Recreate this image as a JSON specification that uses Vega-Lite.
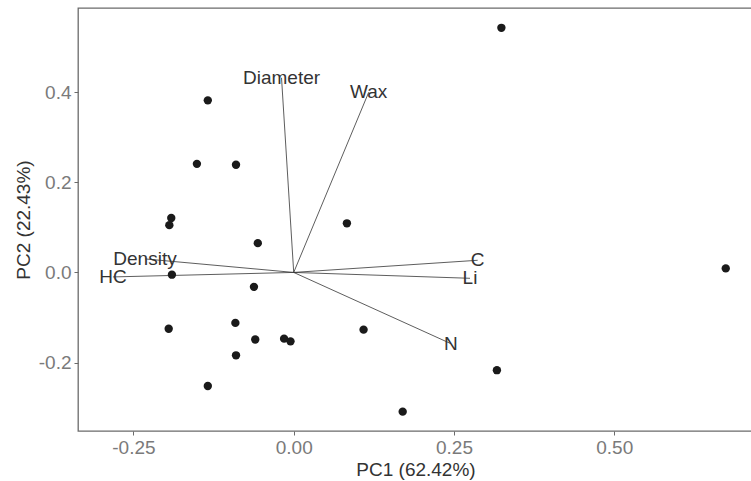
{
  "$schema": "https://vega.github.io/schema/vega-lite/v6.json",
  "autosize": "none",
  "width": 675,
  "height": 423,
  "padding": {"left": 78, "top": 8, "right": 0, "bottom": 50},
  "background": "white",
  "config": {
    "font": "Liberation Sans",
    "view": {"stroke": "#6b6b6b", "strokeWidth": 1.3},
    "axis": {
      "grid": false,
      "domain": false,
      "tickColor": "#6b6b6b",
      "tickSize": 4,
      "tickWidth": 1,
      "labelFont": "Liberation Sans",
      "labelFontSize": 19,
      "labelColor": "#7a7a7a",
      "labelPadding": 3,
      "titleFont": "Liberation Sans",
      "titleFontSize": 19,
      "titleFontWeight": "normal",
      "titleColor": "#333333"
    }
  },
  "datasets": {
    "ind": [
      {"PC1": 0.324, "PC2": 0.543},
      {"PC1": -0.134, "PC2": 0.382},
      {"PC1": -0.151, "PC2": 0.241},
      {"PC1": -0.090, "PC2": 0.239},
      {"PC1": -0.191, "PC2": 0.121},
      {"PC1": -0.194, "PC2": 0.105},
      {"PC1": 0.083, "PC2": 0.109},
      {"PC1": -0.056, "PC2": 0.065},
      {"PC1": -0.190, "PC2": -0.005},
      {"PC1": -0.062, "PC2": -0.032},
      {"PC1": -0.195, "PC2": -0.125},
      {"PC1": -0.091, "PC2": -0.112},
      {"PC1": -0.060, "PC2": -0.149},
      {"PC1": -0.015, "PC2": -0.147},
      {"PC1": -0.005, "PC2": -0.153},
      {"PC1": -0.090, "PC2": -0.184},
      {"PC1": -0.134, "PC2": -0.252},
      {"PC1": 0.109, "PC2": -0.127},
      {"PC1": 0.674, "PC2": 0.009},
      {"PC1": 0.317, "PC2": -0.217},
      {"PC1": 0.170, "PC2": -0.309}
    ],
    "var": [
      {"name": "Diameter", "PC1": -0.019, "PC2": 0.432},
      {"name": "Wax", "PC1": 0.117, "PC2": 0.400},
      {"name": "Density", "PC1": -0.232, "PC2": 0.030},
      {"name": "HC", "PC1": -0.282, "PC2": -0.010},
      {"name": "C", "PC1": 0.287, "PC2": 0.027},
      {"name": "Li", "PC1": 0.275, "PC2": -0.013},
      {"name": "N", "PC1": 0.245, "PC2": -0.158}
    ]
  },
  "layer": [
    {
      "data": {"name": "var"},
      "mark": {"type": "rule", "color": "#333333", "strokeWidth": 0.8},
      "encoding": {
        "x": {"field": "PC1", "type": "quantitative",
              "scale": {"domain": [-0.3365, 0.7165], "nice": false, "zero": false},
              "axis": {"values": [-0.25, 0, 0.25, 0.5], "labelExpr": "replace(format(datum.value, '.2f'), '\u2212', '-')", "title": "PC1 (62.42%)", "titlePadding": 3}},
        "y": {"field": "PC2", "type": "quantitative",
              "scale": {"domain": [-0.352, 0.587], "nice": false, "zero": false},
              "axis": {"values": [-0.2, 0, 0.2, 0.4], "labelExpr": "replace(format(datum.value, '.1f'), '\u2212', '-')", "title": "PC2 (22.43%)", "titlePadding": 5}},
        "x2": {"datum": 0},
        "y2": {"datum": 0}
      }
    },
    {
      "data": {"name": "ind"},
      "mark": {"type": "point", "filled": true, "color": "#1a1a1a", "size": 70, "opacity": 1},
      "encoding": {
        "x": {"field": "PC1", "type": "quantitative"},
        "y": {"field": "PC2", "type": "quantitative"}
      }
    },
    {
      "data": {"name": "var"},
      "mark": {"type": "text", "fontSize": 19, "color": "#333333", "baseline": "middle", "align": "center", "font": "Liberation Sans"},
      "encoding": {
        "x": {"field": "PC1", "type": "quantitative"},
        "y": {"field": "PC2", "type": "quantitative"},
        "text": {"field": "name"}
      }
    }
  ]
}
